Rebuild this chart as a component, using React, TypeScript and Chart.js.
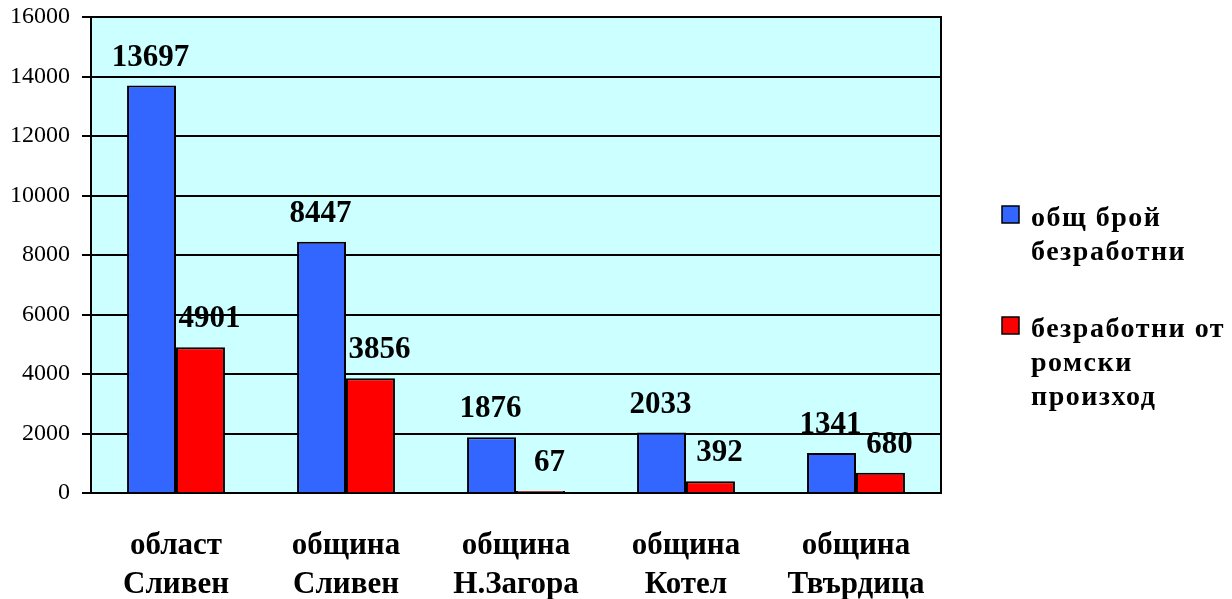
import React, { useEffect, useRef } from "react";
import { Chart, registerables } from "chart.js";

Chart.register(...registerables);

const categories: string[][] = [
  ["област", "Сливен"],
  ["община", "Сливен"],
  ["община", "Н.Загора"],
  ["община", "Котел"],
  ["община", "Твърдица"],
];
const totalUnemployed: number[] = [13697, 8447, 1876, 2033, 1341];
const romaUnemployed: number[] = [4901, 3856, 67, 392, 680];
const legendTotal: string[] = ["общ брой", "безработни"];
const legendRoma: string[] = ["безработни от", "ромски", "произход"];
const yTicks = { min: 0, max: 16000, step: 2000 };

const FONT = "'Liberation Serif', 'Times New Roman', serif";

const plotPlugin = {
  id: "plotDecor",
  beforeDraw(chart: any) {
    const { ctx, chartArea: a } = chart;
    ctx.save();
    ctx.fillStyle = "#CCFFFF";
    ctx.fillRect(a.left, a.top, a.right - a.left, a.bottom - a.top);
    ctx.restore();
  },
  afterDatasetsDraw(chart: any) {
    const { ctx, chartArea: a } = chart;
    ctx.save();
    ctx.strokeStyle = "#000";
    ctx.lineWidth = 2;
    ctx.strokeRect(a.left, a.top, a.right - a.left, a.bottom - a.top);
    // value labels
    ctx.fillStyle = "#000";
    ctx.font = `bold 31px ${FONT}`;
    ctx.textAlign = "center";
    ctx.textBaseline = "alphabetic";
    chart.data.datasets.forEach((ds: any, di: number) => {
      const meta = chart.getDatasetMeta(di);
      meta.data.forEach((el: any, i: number) => {
        const dx = di === 1 ? 9 : -1;
        ctx.fillText(String(ds.data[i]), el.x + dx, el.y - 20);
      });
    });
    // legend
    const items = [
      { lines: legendTotal, color: chart.data.datasets[0].backgroundColor },
      { lines: legendRoma, color: chart.data.datasets[1].backgroundColor },
    ];
    const x0 = a.right + 61;
    const baselines = [226, 337];
    ctx.textAlign = "left";
    ctx.font = `bold 28px ${FONT}`;
    (ctx as any).letterSpacing = "1.5px";
    items.forEach((it, k) => {
      const b = baselines[k];
      ctx.fillStyle = it.color;
      ctx.fillRect(x0, b - 20, 17, 17);
      ctx.strokeStyle = "#000";
      ctx.lineWidth = 1.5;
      ctx.strokeRect(x0, b - 20, 17, 17);
      ctx.fillStyle = "#000";
      it.lines.forEach((ln, j) => {
        ctx.fillText(ln, x0 + 29, b + j * 34);
      });
    });
    (ctx as any).letterSpacing = "0px";
    ctx.restore();
  },
};

export default function App() {
  const ref = useRef<HTMLCanvasElement>(null);
  useEffect(() => {
    document.body.style.margin = "0";
    const chart = new Chart(ref.current!, {
      type: "bar",
      data: {
        labels: categories,
        datasets: [
          {
            label: legendTotal.join(" "),
            data: totalUnemployed,
            backgroundColor: "#3366FF",
            borderColor: "#000",
            borderWidth: 2,
            categoryPercentage: 0.576,
            barPercentage: 1,
          },
          {
            label: legendRoma.join(" "),
            data: romaUnemployed,
            backgroundColor: "#FF0000",
            borderColor: "#000",
            borderWidth: 2,
            categoryPercentage: 0.576,
            barPercentage: 1,
          },
        ],
      },
      options: {
        animation: false,
        responsive: false,
        maintainAspectRatio: false,
        layout: { padding: { top: 17, right: 291, left: 0, bottom: 0 } },
        plugins: {
          legend: { display: false },
          tooltip: { enabled: false },
        },
        scales: {
          x: {
            grid: { display: false },
            border: { display: false },
            ticks: {
              color: "#000",
              font: { family: FONT, size: 31, weight: "bold", lineHeight: 1.27 },
              padding: 25,
              maxRotation: 0,
              autoSkip: false,
            },
            afterFit(scale: any) {
              scale.height = 106;
            },
          },
          y: {
            min: yTicks.min,
            max: yTicks.max,
            grid: { color: "#000", lineWidth: 2, tickLength: 9, drawTicks: true },
            border: { display: false },
            ticks: {
              stepSize: yTicks.step,
              color: "#000",
              font: { family: FONT, size: 24 },
              padding: 12,
              callback: (v: any) => String(v),
            },
            afterFit(scale: any) {
              scale.width = 91;
              scale.paddingTop = 0;
              scale.paddingBottom = 0;
            },
          },
        },
      },
      plugins: [plotPlugin],
    });
    return () => chart.destroy();
  }, []);
  return <canvas ref={ref} width={1232} height={599} style={{ display: "block" }} />;
}
